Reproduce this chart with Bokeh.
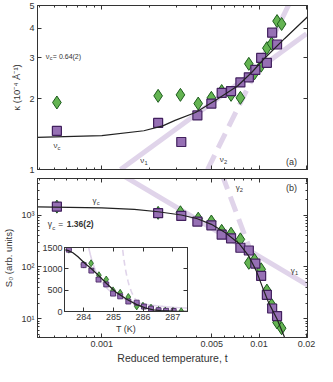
import numpy as np
from bokeh.plotting import figure
from bokeh.models import (Range1d, FixedTicker, LogAxis, LinearAxis, Label, GridBox,
                          CustomJSTickFormatter)
from bokeh.embed import file_html
from bokeh.resources import INLINE

FONT = "Liberation Sans"
INK = "#333333"
GREEN_FILL, GREEN_LINE = "#64b452", "#1d5c1d"
PURPLE_FILL, PURPLE_LINE = "#9670b4", "#42205e"
LAV = "#e0d4ea"

# ---------------- data ----------------
t_green = [0.000518, 0.00228, 0.00316, 0.0041, 0.00497, 0.00578, 0.00663, 0.0076,
           0.0086, 0.00934, 0.0103, 0.0112, 0.0120, 0.0130, 0.0139]
kappa_green = [1.93, 2.06, 2.08, 1.91, 2.02, 2.16, 2.08, 2.02,
               2.82, 2.57, 2.77, 3.29, 3.44, 4.29, 4.17]
S_green = [1450, 1100, 1130, 850, 750, 495, 437, 340,
           120, 136, 90, 35, 18.6, 8.5, 6.6]

t_purple = [0.000518, 0.00228, 0.0032, 0.00405, 0.00497, 0.00578, 0.00663, 0.0076,
            0.0086, 0.00946, 0.0103, 0.0112, 0.0121, 0.0130]
kappa_purple = [1.46, 1.58, 1.31, 1.70, 1.91, 2.12, 2.16, 2.35,
                2.47, 2.66, 2.99, 2.85, 3.83, 3.41]
S_purple = [1450, 1087, 959, 748, 634, 419, 355, 234,
            207, 116, 67, 29, 15.8, 11.3]

# crossover fit curves
fit_a_t = [0.00035, 0.001, 0.00185, 0.00244, 0.00292, 0.00394, 0.00532, 0.00729,
           0.00896, 0.0110, 0.0145, 0.0204]
fit_a_kappa = [1.369, 1.395, 1.463, 1.535, 1.62, 1.75, 1.98, 2.27,
               2.59, 3.01, 3.61, 4.49]
fit_b_t = [0.0001, 0.00039, 0.001, 0.00161, 0.00228, 0.0032, 0.00405, 0.00497,
           0.00611, 0.00751, 0.0086, 0.00961, 0.01056, 0.01151, 0.01297, 0.01444, 0.0152]
fit_b_S = [1445, 1434, 1377, 1283, 1156, 1000, 847, 661,
           455, 276, 161, 83, 39, 20.3, 10, 4.55, 3.0]

# asymptotic power laws (end points)
nu1_t, nu1_kappa = [0.001315, 0.02], [1.0, 3.79]
nu2_t, nu2_kappa = [0.0047, 0.0158], [1.0, 5.2]
g1_t, g1_S = [0.00140, 0.021], [5500, 42]
g2_t, g2_S = [0.0058, 0.0095], [6125, 112]

TC = 283.35  # K, T = TC (1 + t) for the inset

x_major = [0.001, 0.005, 0.01, 0.02]
x_minor = [0.0004, 0.0005, 0.0006, 0.0007, 0.0008, 0.0009,
           0.002, 0.003, 0.004, 0.006, 0.007, 0.008, 0.009]
k_major = [1, 2, 3, 4, 5]
s_major = [10, 100, 1000]
s_minor = [5, 6, 7, 8, 9, 20, 30, 40, 50, 60, 70, 80, 90,
           200, 300, 400, 500, 600, 700, 800, 900, 2000, 3000, 4000, 5000]
T_major = [284, 285, 286, 287]
Si_major = [0, 500, 1000, 1500]

X_RANGE = (0.00039, 0.0203)
K_RANGE = (1.0, 5.0)
S_RANGE = (4.37, 5050)
T_RANGE = (283.35, 287.5)
SI_RANGE = (0, 1500)


def frac(rng, f, log=True):
    a, b = rng
    if log:
        return 10 ** (np.log10(a) + f * (np.log10(b) - np.log10(a)))
    return a + f * (b - a)


def style(ax, labels=True, size=9):
    ax.axis_line_color = INK
    ax.major_tick_line_color = INK
    ax.minor_tick_line_color = INK
    ax.major_tick_in = 4
    ax.major_tick_out = 0
    ax.minor_tick_in = 2
    ax.minor_tick_out = 0
    ax.major_label_text_font = FONT
    ax.major_label_text_font_size = f"{size}px"
    ax.major_label_text_color = INK
    ax.major_label_standoff = 3
    ax.axis_label_text_font = FONT
    ax.axis_label_text_font_style = "normal"
    ax.axis_label_text_color = INK
    ax.axis_label_standoff = 3
    if not labels:
        ax.formatter = CustomJSTickFormatter(code="return ''")
        ax.major_label_text_font_size = "0px"
        ax.major_label_standoff = 0


def add_text(p, xr, yr, fx, fy, text, size, dx=0, dy=0, bold=False):
    p.add_layout(Label(x=frac(xr, fx), y=frac(yr, fy), x_offset=dx, y_offset=dy,
                       text=text, text_font=FONT, text_font_size=f"{size}px",
                       text_color=INK, text_baseline="middle", text_align="left",
                       text_font_style="bold" if bold else "normal"))


def add_sub(p, xr, yr, fx, fy, sym, sub, size, rest=None, rest_dx=None, rest_size=None,
            rest_bold=False):
    add_text(p, xr, yr, fx, fy, sym, size)
    add_text(p, xr, yr, fx, fy, sub, size * 0.72, dx=size * 0.52, dy=-size * 0.32)
    if rest:
        add_text(p, xr, yr, fx, fy, rest, rest_size or size,
                 dx=rest_dx if rest_dx is not None else size * 1.1, bold=rest_bold)


x_ticker = FixedTicker(ticks=x_major, minor_ticks=x_minor)
k_ticker = FixedTicker(ticks=k_major, minor_ticks=[])
s_ticker = FixedTicker(ticks=s_major, minor_ticks=s_minor)
x_fmt = CustomJSTickFormatter(code="return tick.toString();")
s_fmt = CustomJSTickFormatter(code="""
const m = {10: "10\u00b9", 100: "10\u00b2", 1000: "10\u00b3"};
return m[tick] || "";""")


def base_fig(height, y_range, top, bottom, x_labels, y_ticker, y_fmt, y_title):
    p = figure(width=317, height=height, x_axis_type="log", y_axis_type="log",
               x_range=Range1d(*X_RANGE), y_range=Range1d(*y_range),
               output_backend="svg", toolbar_location=None,
               min_border_left=32, min_border_right=10,
               min_border_top=top, min_border_bottom=bottom)
    p.xgrid.grid_line_color = None
    p.ygrid.grid_line_color = None
    p.outline_line_color = INK
    p.background_fill_color = "white"
    p.border_fill_color = "white"
    xa = p.xaxis[0]
    xa.ticker = x_ticker
    if x_labels:
        xa.formatter = x_fmt
    style(xa, labels=x_labels)
    if x_labels:
        xa.axis_label = "Reduced temperature, t"
        xa.axis_label_text_font_size = "10.5px"
        xa.axis_label_standoff = 2
    ya = p.yaxis[0]
    ya.ticker = y_ticker
    ya.formatter = y_fmt
    style(ya)
    ya.axis_label = y_title
    ya.axis_label_text_font_size = "9.5px"
    ya.axis_label_standoff = 4
    top_ax = LogAxis(ticker=x_ticker)
    style(top_ax, labels=False)
    p.add_layout(top_ax, "above")
    right_ax = LogAxis(ticker=y_ticker)
    style(right_ax, labels=False)
    p.add_layout(right_ax, "right")
    return p


# ---------------- top panel (a) ----------------
k_fmt = CustomJSTickFormatter(code="return tick.toString();")
pa = base_fig(175, K_RANGE, 5, 6, False, k_ticker, k_fmt,
              "\u03ba (10\u207b\u2074 \u00c5\u207b\u00b9)")
pa.line(nu1_t, nu1_kappa, line_color=LAV, line_width=5)
pa.line(nu2_t, nu2_kappa, line_color=LAV, line_width=5, line_dash="16 8")
pa.scatter(t_green, kappa_green, marker="diamond", size=13, fill_color=GREEN_FILL,
           line_color=GREEN_LINE, line_width=1)
pa.scatter(t_purple, kappa_purple, marker="square", size=9, fill_color=PURPLE_FILL,
           line_color=PURPLE_LINE, line_width=1.2)
pa.line(fit_a_t, fit_a_kappa, line_color="#222222", line_width=1.2)

add_sub(pa, X_RANGE, K_RANGE, 0.031, 0.692, "\u03bd", "c", 7.5, rest="= 0.64(2)",
        rest_dx=7, rest_size=7)
add_sub(pa, X_RANGE, K_RANGE, 0.059, 0.148, "\u03bd", "c", 8)
add_sub(pa, X_RANGE, K_RANGE, 0.381, 0.053, "\u03bd", "1", 8)
add_sub(pa, X_RANGE, K_RANGE, 0.675, 0.059, "\u03bd", "2", 8)
add_text(pa, X_RANGE, K_RANGE, 0.920, 0.047, "(a)", 9)

# ---------------- bottom panel (b) ----------------
pb = base_fig(191, S_RANGE, 3, 28, True, s_ticker, s_fmt, "S\u2080 (arb. units)")
pb.line(g1_t, g1_S, line_color=LAV, line_width=5)
pb.line(g2_t, g2_S, line_color=LAV, line_width=5, line_dash="16 8")
pb.scatter(t_green, S_green, marker="diamond", size=13, fill_color=GREEN_FILL,
           line_color=GREEN_LINE, line_width=1)
pb.scatter(t_purple, S_purple, marker="square", size=9, fill_color=PURPLE_FILL,
           line_color=PURPLE_LINE, line_width=1.2)
pb.line(fit_b_t, fit_b_S, line_color="#222222", line_width=1.2)

add_sub(pb, X_RANGE, S_RANGE, 0.204, 0.859, "\u03b3", "c", 8)
add_sub(pb, X_RANGE, S_RANGE, 0.038, 0.712, "\u03b3", "c", 8.5, rest="=", rest_dx=10.5,
        rest_size=8.5)
add_text(pb, X_RANGE, S_RANGE, 0.038, 0.712, "1.36(2)", 8.5, dx=19, bold=True)
add_sub(pb, X_RANGE, S_RANGE, 0.734, 0.941, "\u03b3", "2", 8)
add_text(pb, X_RANGE, S_RANGE, 0.920, 0.941, "(b)", 9)
add_sub(pb, X_RANGE, S_RANGE, 0.938, 0.424, "\u03b3", "1", 8)

# ---------------- inset ----------------
def to_T(t):
    return TC * (1 + np.asarray(t, dtype=float))


def powerline(ts, vs, n=80):
    f = np.linspace(0, 1, n)
    return ts[0] * (ts[1] / ts[0]) ** f, vs[0] * (vs[1] / vs[0]) ** f


pi = figure(width=161, height=94, x_range=Range1d(*T_RANGE), y_range=Range1d(*SI_RANGE),
            output_backend="svg", toolbar_location=None,
            min_border_left=34, min_border_right=4, min_border_top=4, min_border_bottom=26)
pi.xgrid.grid_line_color = None
pi.ygrid.grid_line_color = None
pi.outline_line_color = INK
pi.background_fill_color = "white"
pi.border_fill_alpha = 0
xi = pi.xaxis[0]
xi.ticker = FixedTicker(ticks=T_major, minor_ticks=[])
style(xi)
xi.axis_label = "T (K)"
xi.axis_label_text_font_size = "9px"
xi.axis_label_standoff = 1
xi.major_label_standoff = 2
yi = pi.yaxis[0]
yi.ticker = FixedTicker(ticks=Si_major, minor_ticks=[])
style(yi)
yi.major_label_standoff = 2
ti = LinearAxis(ticker=FixedTicker(ticks=T_major, minor_ticks=[]))
style(ti, labels=False)
pi.add_layout(ti, "above")
ri = LinearAxis(ticker=FixedTicker(ticks=Si_major, minor_ticks=[]))
style(ri, labels=False)
pi.add_layout(ri, "right")

g1x, g1y = powerline(g1_t, g1_S)
g2x, g2y = powerline(g2_t, g2_S)
pi.line(to_T(g1x), g1y, line_color=LAV, line_width=1.6)
pi.line(to_T(g2x), g2y, line_color=LAV, line_width=1.6, line_dash="6 4")
pi.scatter(to_T(t_green), S_green, marker="diamond", size=7, fill_color=GREEN_FILL,
           line_color=GREEN_LINE, line_width=0.8)
pi.scatter(to_T(t_purple), S_purple, marker="square", size=5, fill_color=PURPLE_FILL,
           line_color=PURPLE_LINE, line_width=0.8)
pi.line(to_T(fit_b_t), fit_b_S, line_color="#222222", line_width=1.3)

layout = GridBox(children=[(pa, 0, 0, 1, 3), (pb, 1, 0, 3, 3), (pi, 2, 1, 1, 1)],
                 rows=["175px", "68px", "94px", "29px"],
                 cols=["30px", "161px", "126px"], spacing=0)

open("out.html", "w").write(file_html(layout, INLINE))
